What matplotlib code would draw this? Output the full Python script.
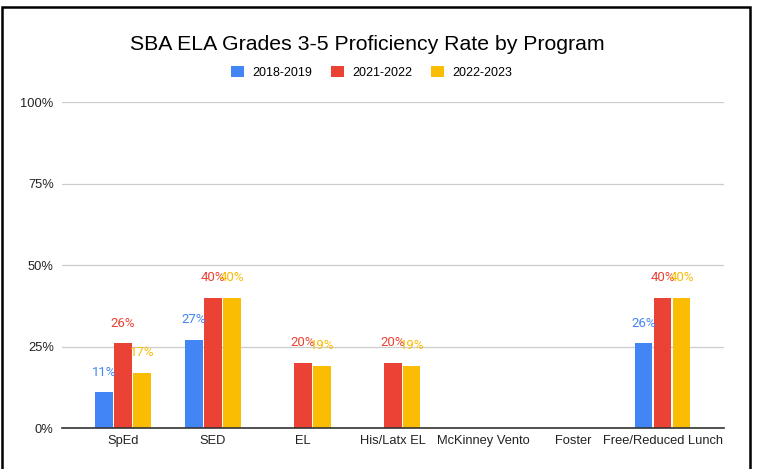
import matplotlib.pyplot as plt
import numpy as np
from matplotlib.patches import Rectangle

plt.rcParams["font.family"] = ["Liberation Sans", "DejaVu Sans"]

# Data (nan = no bar)
categories = ["SpEd", "SED", "EL", "His/Latx EL", "McKinney Vento", "Foster",
              "Free/Reduced Lunch"]
years = ["2018-2019", "2021-2022", "2022-2023"]
rate_1819 = [11, 27, np.nan, np.nan, np.nan, np.nan, 26]
rate_2122 = [26, 40, 20, 20, np.nan, np.nan, 40]
rate_2223 = [17, 40, 19, 19, np.nan, np.nan, 40]
yticks = [0, 25, 50, 75, 100]

colors = ["#4285F4", "#EA4335", "#FBBC04"]
series = [rate_1819, rate_2122, rate_2223]

fig = plt.figure(figsize=(7.62, 4.69), dpi=100)
ax = fig.add_axes([0.0814, 0.0874, 0.8686, 0.6951])

x = np.arange(len(categories))
width = 0.19
step = 0.211

for j, (vals, col, lab) in enumerate(zip(series, colors, years)):
    xs = x + (j - 1) * step
    v = np.array(vals, dtype=float)
    ax.bar(xs, np.nan_to_num(v), width, color=col, label=lab, zorder=3)
    for xi, vi in zip(xs, v):
        if np.isnan(vi):
            continue
        ax.annotate(f"{vi:.0f}%", (xi, vi), xytext=(0, 14.5),
                    textcoords="offset points", ha="center", va="center",
                    color=col, fontsize=9.5, family=["Roboto", "DejaVu Sans"],
                    zorder=4)

ax.set_xlim(-0.678, len(categories) - 1 + 0.678)
ax.set_ylim(0, 100)
ax.set_yticks(yticks)
ax.set_yticklabels([f"{t}%" for t in yticks])
ax.set_xticks(x)
ax.set_xticklabels(categories)
ax.tick_params(axis="both", length=0, labelsize=9.3, colors="#222222")
ax.tick_params(axis="y", pad=6)
ax.tick_params(axis="x", pad=5)
ax.grid(True, axis="y", color="#cccccc", linewidth=0.9, zorder=0)
for s in ["top", "right", "left"]:
    ax.spines[s].set_visible(False)
ax.spines["bottom"].set_color("#333333")
ax.spines["bottom"].set_linewidth(1.2)
ax.spines["bottom"].set_zorder(5)

fig.text(0.482, 0.906, "SBA ELA Grades 3-5 Proficiency Rate by Program",
         ha="center", va="center", fontsize=15.3, color="#000000")

fig.legend(loc="center", bbox_to_anchor=(0.488, 0.845), ncol=3, frameon=False,
           fontsize=9, handlelength=1.0, handleheight=1.0, handletextpad=0.7,
           columnspacing=1.5)

# black frame around the chart (bottom edge cut off)
fig.patches.append(Rectangle((0.0026, -0.1), 0.9816, 1.085, transform=fig.transFigure,
                             fill=False, edgecolor="black", linewidth=1.8,
                             clip_on=False))

fig.savefig("out.png", dpi=100)
